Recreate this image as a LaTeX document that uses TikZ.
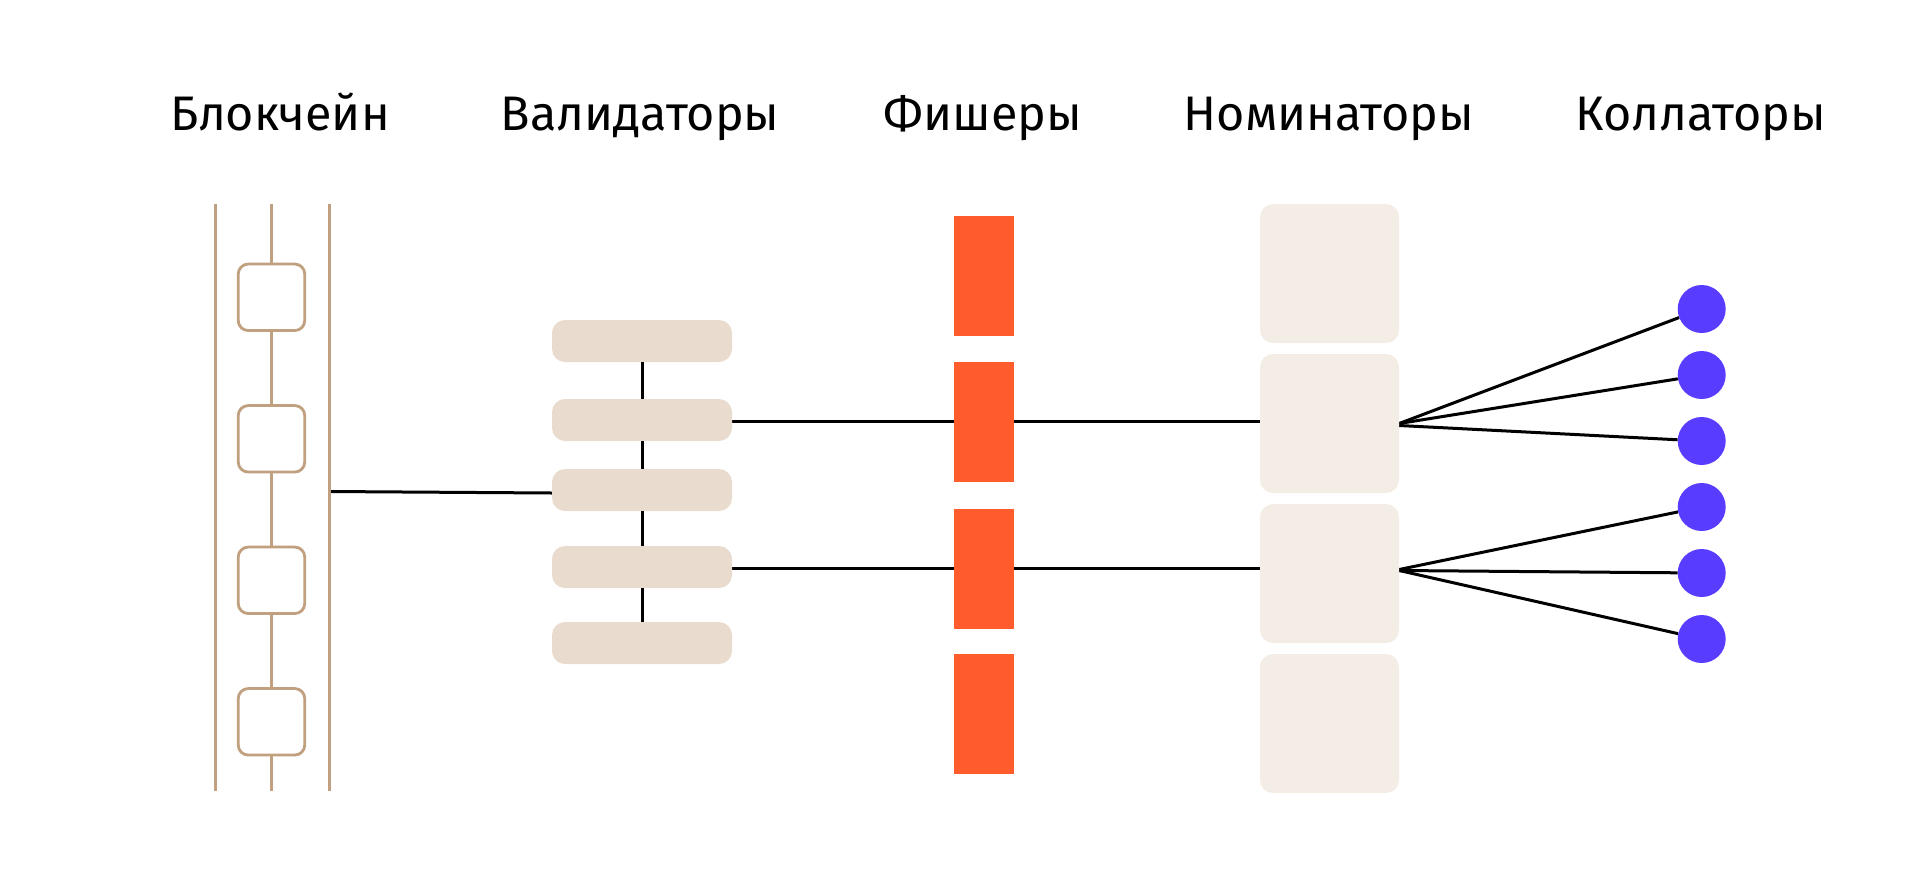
\documentclass[tikz,border=0pt]{standalone}
\usepackage{fontspec}
\setmainfont{Fira Sans}
\usetikzlibrary{calc,backgrounds}
\definecolor{chaintan}{RGB}{193,160,128}
\definecolor{valfill}{RGB}{233,220,207}
\definecolor{nomfill}{RGB}{244,237,230}
\definecolor{fishfill}{RGB}{255,91,45}
\definecolor{collfill}{RGB}{88,60,255}
\begin{document}
\begin{tikzpicture}[x=1pt,y=-1pt,
  coltitle/.style={anchor=base, font=\fontsize{48.5}{58}\selectfont, inner sep=0pt},
  chainblock/.style={draw=chaintan, line width=2.8pt, fill=white, rounded corners=10pt, minimum width=66.5pt, minimum height=66.5pt, inner sep=0pt},
  valbox/.style={fill=valfill, rounded corners=13pt, minimum width=180pt, minimum height=42pt, inner sep=0pt},
  fishbox/.style={fill=fishfill, minimum width=60pt, minimum height=120pt, inner sep=0pt},
  nombox/.style={fill=nomfill, rounded corners=13pt, minimum width=139pt, minimum height=139pt, inner sep=0pt},
  colldot/.style={circle, fill=collfill, minimum size=48pt, inner sep=0pt},
  link/.style={draw=black, line width=3pt},
  rail/.style={draw=chaintan, line width=2.8pt}
]
\useasboundingbox (0,0) rectangle (1920,876);

% titles
\node[coltitle] (tb) at (280,130) {Блокчейн};
\node[coltitle] (tv) at (640,130) {Валидаторы};
\node[coltitle] (tf) at (983,130) {Фишеры};
\node[coltitle] (tn) at (1329,130) {Номинаторы};
\node[coltitle] (tc) at (1701,130) {Коллаторы};

% blockchain
\coordinate (lt) at (215.7,204);
\coordinate (lb) at (215.7,791);
\coordinate (rt) at (329.7,204);
\coordinate (rb) at (329.7,791);
\coordinate (mt) at (271.5,204);
\coordinate (mb) at (271.5,791);
\coordinate (cr) at (329.7,491.5);
\draw[rail] (lt) -- (lb);
\draw[rail] (rt) -- (rb);
\node[chainblock] (b1) at (271.5,297.3) {};
\node[chainblock] (b2) at (271.5,438.8) {};
\node[chainblock] (b3) at (271.5,580.3) {};
\node[chainblock] (b4) at (271.5,721.8) {};
\draw[rail] (mt) -- (b1) (b1) -- (b2) (b2) -- (b3) (b3) -- (b4) (b4) -- (mb);

% validators
\node[valbox] (v1) at (642,341) {};
\node[valbox] (v2) at (642,420) {};
\node[valbox] (v3) at (642,490) {};
\node[valbox] (v4) at (642,567) {};
\node[valbox] (v5) at (642,643) {};
\draw[link] (v1) -- (v2) (v2) -- (v3) (v3) -- (v4) (v4) -- (v5);

% fishers
\node[fishbox] (f1) at (984,276) {};
\node[fishbox] (f2) at (984,422) {};
\node[fishbox] (f3) at (984,569) {};
\node[fishbox] (f4) at (984,714) {};

% nominators
\node[nombox] (n1) at (1329.5,273.5) {};
\node[nombox] (n2) at (1329.5,423.5) {};
\node[nombox] (n3) at (1329.5,573.5) {};
\node[nombox] (n4) at (1329.5,723.5) {};

% collators
\node[colldot] (c1) at (1701.7,309) {};
\node[colldot] (c2) at (1701.7,375) {};
\node[colldot] (c3) at (1701.7,441) {};
\node[colldot] (c4) at (1701.7,507) {};
\node[colldot] (c5) at (1701.7,573) {};
\node[colldot] (c6) at (1701.7,639) {};

\begin{scope}[on background layer]
\draw[link] (cr) -- ($(v3.west)+(0,3)$);
\draw[link] ($(v2.east)+(0,1)$) -- ($(v2.east -| n2.west)+(0,1)$);
\draw[link] ($(v4.east)+(0,1)$) -- ($(v4.east -| n3.west)+(0,1)$);
\draw[link] (n2.east) -- (c1);
\draw[link] (n2.east) -- (c2);
\draw[link] ($(n2.east)+(0,2)$) -- (c3);
\draw[link] ($(n3.east)+(0,-4)$) -- (c4);
\draw[link] ($(n3.east)+(0,-3)$) -- (c5);
\draw[link] ($(n3.east)+(0,-3)$) -- (c6);
\end{scope}
\end{tikzpicture}
\end{document}
